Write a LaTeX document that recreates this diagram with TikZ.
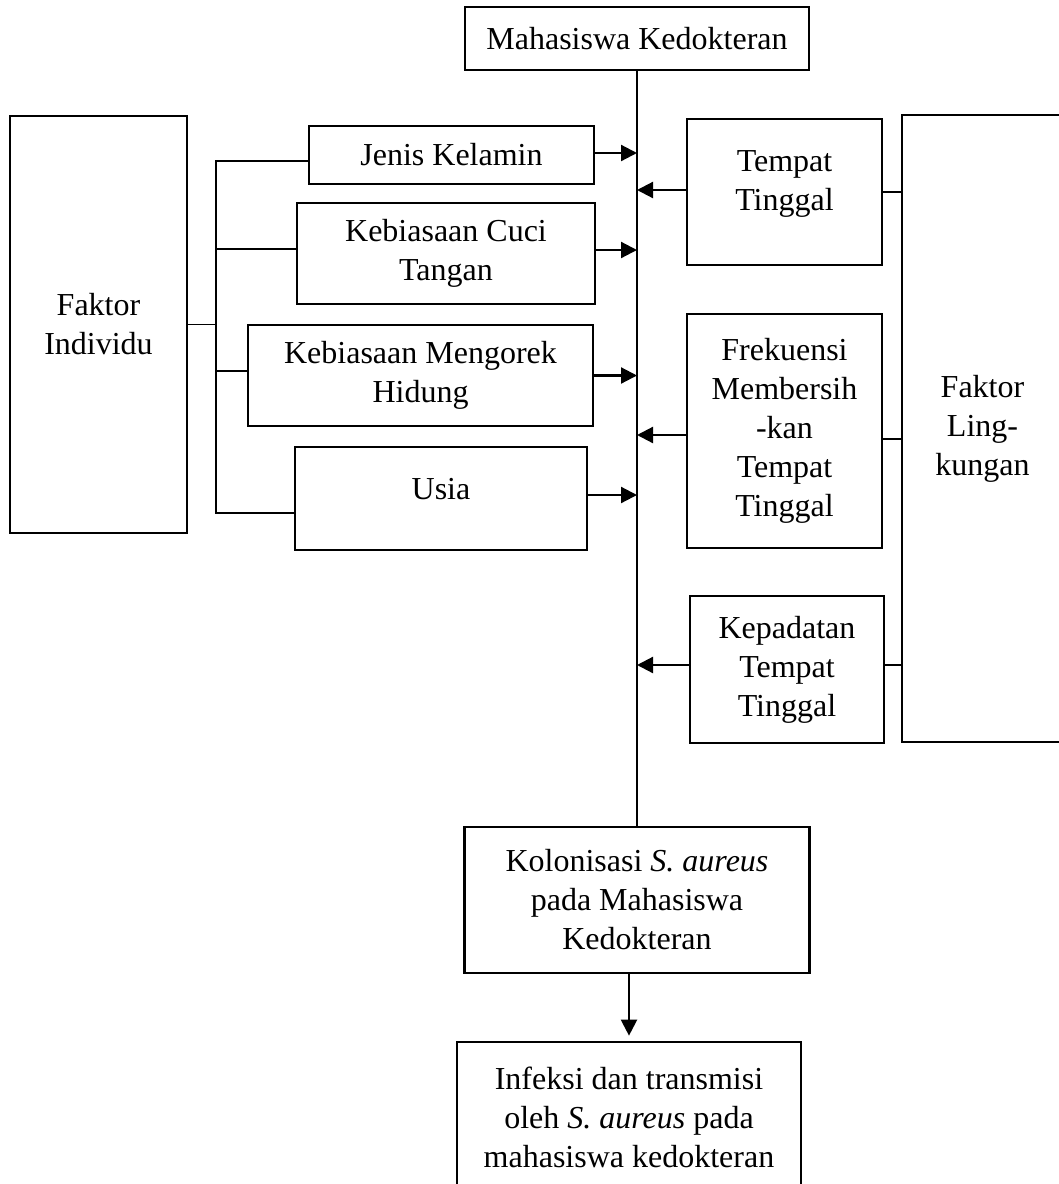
\documentclass[tikz,border=0pt]{standalone}
\usepackage{fontspec}
\setmainfont{Liberation Serif}
\usetikzlibrary{arrows.meta,calc}
\tikzset{
  box/.style={draw, line width=1.35pt, align=center, inner sep=0pt,
    font=\fontsize{16}{19.5}\selectfont},
  thinline/.style={line width=0.7pt},
  arr/.style={line width=1.1pt, -{Triangle[length=8pt,width=8pt]}},
}
\begin{document}
\begin{tikzpicture}[x=0.5pt,y=-0.5pt]
\useasboundingbox (0,0) rectangle (1059,1184);
\clip (0,0) rectangle (1059,1184);
% top
\node[box, minimum width=172pt, minimum height=31.5pt] (top) at (637,38.5) {Mahasiswa Kedokteran};
% left
\node[box, minimum width=88.5pt, minimum height=208.5pt] (fi) at (98.5,324.5) {Faktor\\Individu};
\node[box, minimum width=142.5pt, minimum height=29pt] (jk) at (451.5,155) {Jenis Kelamin};
\node[box, minimum width=149pt, minimum height=50.5pt] (kct) at (446,253.5) {Kebiasaan Cuci\\Tangan};
\node[box, minimum width=172.5pt, minimum height=50.5pt] (kmh) at (420.5,375.5) {Kebiasaan Mengorek\\Hidung};
\node[box, minimum width=146pt, minimum height=51.5pt] (usia) at (441,498.5) {};
\node[font=\fontsize{16}{19.5}\selectfont, inner sep=0pt] (usiatext) at (441,489) {Usia};
% right
\node[box, minimum width=97.5pt, minimum height=73pt] (tt) at (784.5,192) {};
\node[font=\fontsize{16}{19.5}\selectfont, inner sep=0pt, align=center] (tttext) at (784.5,184) {Tempat\\Tinggal};
\node[box, minimum width=97.5pt, minimum height=117pt] (fmt) at (784.5,431) {Frekuensi\\Membersih\\-kan\\Tempat\\Tinggal};
\node[box, minimum width=97pt, minimum height=73.5pt] (ktt) at (787,669.5) {Kepadatan\\Tempat\\Tinggal};
\node[box, minimum width=80.5pt, minimum height=313.5pt] (fl) at (982.5,428.5) {Faktor\\Ling-\\kungan};
% bottom
\node[box, minimum width=172.5pt, minimum height=73pt] (kol) at (637,900) {Kolonisasi \textit{S. aureus}\\pada Mahasiswa\\Kedokteran};
\node[box, minimum width=172pt, minimum height=75pt] (inf) at (629,1117) {Infeksi dan transmisi\\oleh \textit{S. aureus} pada\\mahasiswa kedokteran};
% spine
\draw[thinline] (top.south) -- (kol.north);
% left bracket
\coordinate (bk) at (216,325);
\draw[thinline] (fi.east) -- (fi.east -| bk);
\draw[thinline] ([yshift=-3pt]jk.west) -- ([yshift=-3pt]jk.west -| bk) -- ([yshift=-7.25pt]usia.west -| bk) -- ([yshift=-7.25pt]usia.west);
\draw[thinline] ([yshift=2.25pt]kct.west) -- ([yshift=2.25pt]kct.west -| bk);
\draw[thinline] ([yshift=2.25pt]kmh.west) -- ([yshift=2.25pt]kmh.west -| bk);
% left arrows
\draw[arr] ([yshift=1pt]jk.east) -- ([yshift=1pt]jk.east -| top.south);
\draw[arr] ([yshift=1.75pt]kct.east) -- ([yshift=1.75pt]kct.east -| top.south);
\draw[arr] (kmh.east) -- (kmh.east -| top.south);
\draw[arr] ([yshift=1.75pt]usia.east) -- ([yshift=1.75pt]usia.east -| top.south);
% right arrows
\draw[arr] ([yshift=1pt]tt.west) -- ([yshift=1pt]tt.west -| top.south);
\draw[arr] ([yshift=-2pt]fmt.west) -- ([yshift=-2pt]fmt.west -| top.south);
\draw[arr] ([yshift=2.25pt]ktt.west) -- ([yshift=2.25pt]ktt.west -| top.south);
% right connectors
\draw[thinline] (tt.east) -- (tt.east -| fl.west);
\draw[thinline] ([yshift=-4pt]fmt.east) -- ([yshift=-4pt]fmt.east -| fl.west);
\draw[thinline] ([yshift=2.25pt]ktt.east) -- ([yshift=2.25pt]ktt.east -| fl.west);
% bottom arrow
\draw[arr, shorten >=2.5pt] (kol.south -| inf.north) -- (inf.north);
\end{tikzpicture}
\end{document}
